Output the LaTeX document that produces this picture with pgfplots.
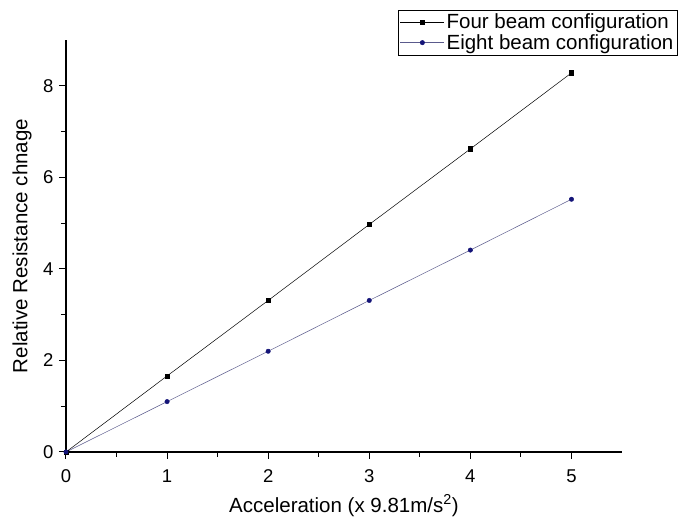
\documentclass[border=0pt]{standalone}
\usepackage{fontspec}
\setmainfont{Liberation Sans}
\usepackage{pgfplots}
\pgfplotsset{compat=1.18}
\definecolor{navyb}{RGB}{20,20,120}
\definecolor{navyl}{RGB}{90,90,140}
\begin{document}
\begin{tikzpicture}
\begin{axis}[
  scale only axis,
  width=556pt, height=412pt,
  xmin=0, xmax=5.5, ymin=0, ymax=9,
  axis x line*=bottom, axis y line*=left,
  axis line style={line width=1.2pt},
  xtick={0,1,2,3,4,5}, ytick={0,2,4,6,8},
  minor x tick num=1, minor y tick num=1,
  tick align=outside,
  major tick length=7pt, minor tick length=5pt,
  tick style={line width=1pt, black},
  /pgf/number format/assume math mode=true,
  ticklabel style={font=\fontsize{18.5}{20}\selectfont},
  xticklabel style={yshift=-7pt},
  yticklabel style={xshift=-2pt},
  xlabel={Acceleration (x 9.81m/s\textsuperscript{2})},
  ylabel={Relative Resistance chnage},
  label style={font=\fontsize{20.5}{23}\selectfont},
  xlabel style={at={(rel axis cs:0.5,-0.13)}, anchor=center},
  ylabel style={at={(rel axis cs:-0.079,0.5)}, anchor=center},
  legend style={at={(rel axis cs:1.1,1.073)}, anchor=north east, draw=black,
    font=\fontsize{20.5}{23}\selectfont, inner sep=2pt, row sep=0pt,
    cells={anchor=west}},
  legend image code/.code={\draw[mark repeat=2,mark phase=2,#1] plot coordinates {(0pt,0pt) (22pt,0pt) (44pt,0pt)};},
  clip=false,
]
\path (rel axis cs:-0.1187,-0.182) rectangle (rel axis cs:1.1187,1.097);
\addplot[black, line width=0.5pt, mark=square*, mark size=2.2pt] coordinates {
  (0,0) (1,1.66) (2,3.31) (3,4.97) (4,6.62) (5,8.28)};
\addlegendentry{Four beam configuration}
\addplot[navyl, line width=0.5pt, mark=*, mark size=2.2pt, mark options={draw=navyb, fill=navyb}] coordinates {
  (0,0) (1,1.10) (2,2.20) (3,3.31) (4,4.41) (5,5.52)};
\addlegendentry{Eight beam configuration}
\end{axis}
\end{tikzpicture}
\end{document}
